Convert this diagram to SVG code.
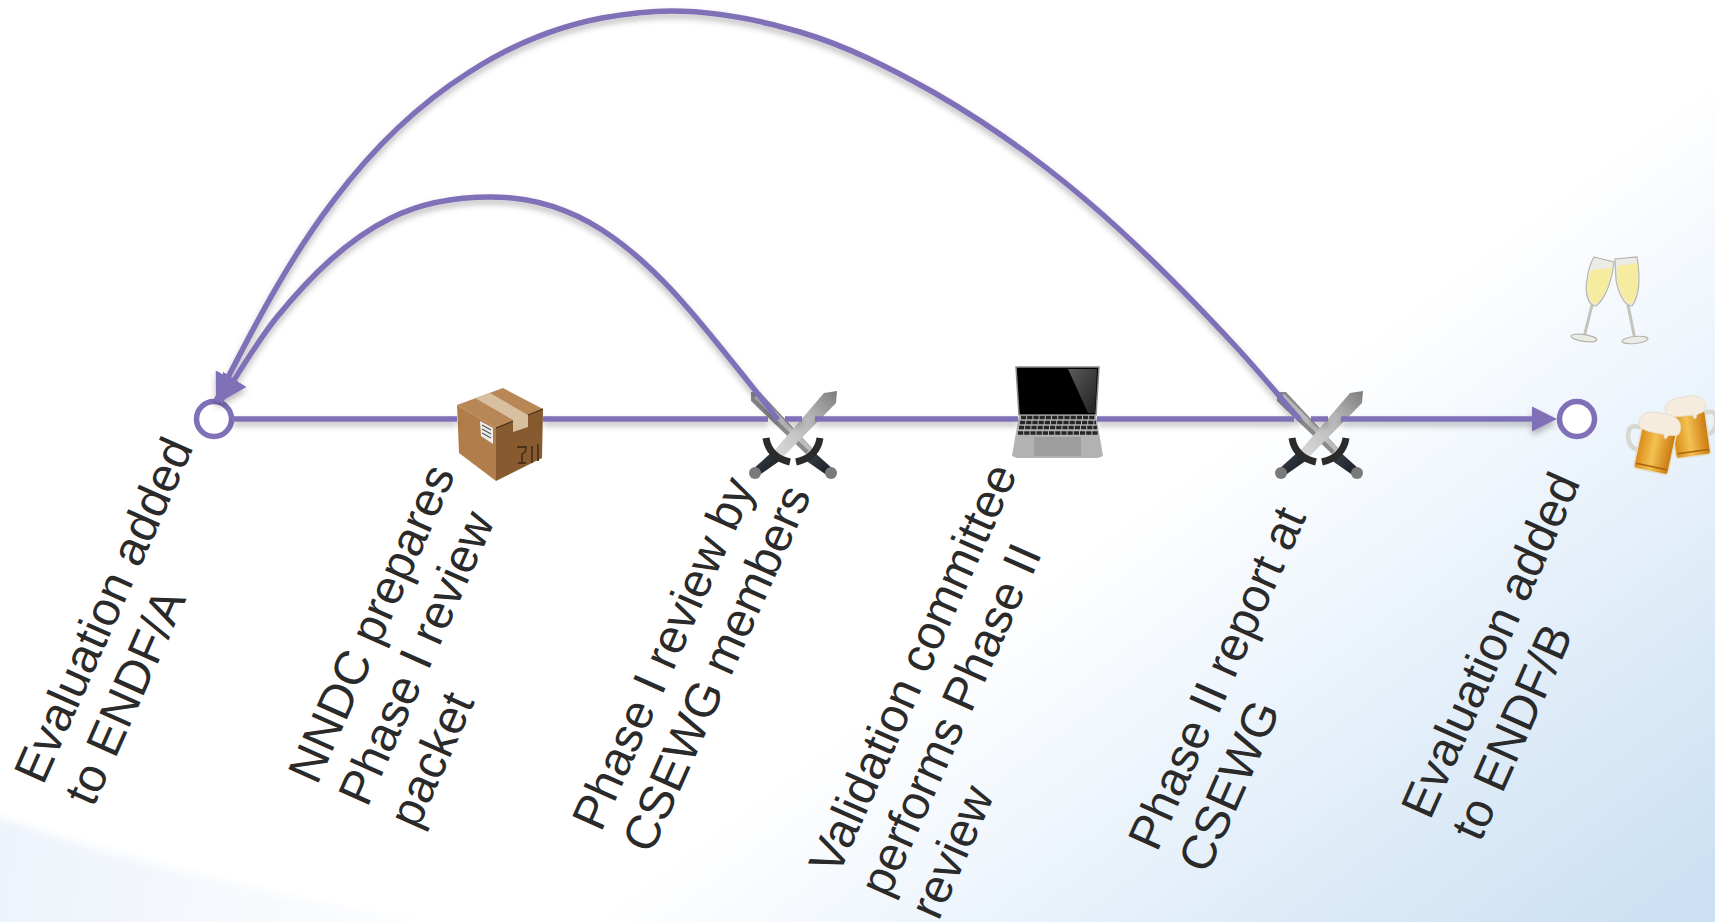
<svg xmlns="http://www.w3.org/2000/svg" xmlns:xlink="http://www.w3.org/1999/xlink" width="1715" height="922" viewBox="0 0 1715 922">
<style>
.lab{font-family:"Liberation Sans",Arial,sans-serif;font-size:48px;fill:#2a2a2a}
.conn{fill:none;stroke:#7f70b8;stroke-width:5.500}
.end{fill:#fff;stroke:#7f70b8;stroke-width:5.500}
.glass{fill:#ecece6;stroke:#b5b5ab;stroke-width:1.200}
.stem{fill:none;stroke:#c4c4bb;stroke-width:3}
.wine{fill:#f6ec9f}
.foam{fill:#f5ecdd;stroke:#e6d9c4;stroke-width:.8}
.handle{fill:none;stroke:#d8d8d0;stroke-width:4.500}
.keys{fill:none;stroke:#262626;stroke-width:3.600;stroke-dasharray:5.200 1}
</style>
<defs>
<linearGradient id="bgA" gradientUnits="userSpaceOnUse" x1="654" y1="872" x2="1044" y2="1392">
<stop offset="0" stop-color="#fff"/><stop offset=".26" stop-color="#f1f7fd"/><stop offset=".6" stop-color="#dfecf8"/><stop offset="1" stop-color="#cbe0f3"/>
</linearGradient>
<linearGradient id="bgB" gradientUnits="userSpaceOnUse" x1="0" y1="830" x2="480" y2="922">
<stop offset="0" stop-color="#edf3fb"/><stop offset="1" stop-color="#fff"/>
</linearGradient>
<linearGradient id="blade" x1="0" y1="1" x2="1" y2="0"><stop offset="0" stop-color="#dcdcdc"/><stop offset=".6" stop-color="#b4b4b4"/><stop offset="1" stop-color="#7c7c7c"/></linearGradient>
<linearGradient id="beer" x1="0" y1="0" x2="1" y2="0"><stop offset="0" stop-color="#d98a17"/><stop offset=".45" stop-color="#f4c152"/><stop offset="1" stop-color="#c9780f"/></linearGradient>
<linearGradient id="grip" x1="0" y1="0" x2="1" y2="1"><stop offset="0" stop-color="#3a4450"/><stop offset="1" stop-color="#15191e"/></linearGradient>
<linearGradient id="shine" x1="0" y1="0" x2="1" y2="1"><stop offset="0" stop-color="#5a5a5a"/><stop offset="1" stop-color="#222"/></linearGradient>
<filter id="sh" x="-5%" y="-5%" width="110%" height="115%"><feDropShadow dx="0" dy="4" stdDeviation="3" flood-color="#000" flood-opacity=".28"/></filter>
<filter id="soft" x="-5%" y="-5%" width="110%" height="110%"><feGaussianBlur stdDeviation="5"/></filter>
<marker id="tri" markerUnits="userSpaceOnUse" markerWidth="32" markerHeight="32" refX="27" refY="15" orient="auto-start-reverse" viewBox="0 0 32 30"><path d="M0 1L27 15L0 29Z" fill="#7f70b8"/></marker>
<g id="swordsIcon">
<path d="M2 1L11 1L63 57L57 63L2 10Z" fill="#8a8a8a"/>
<path d="M9 3L63 57L60 60L5 7Z" fill="#bcbcbc"/>
<path d="M75 2L88 0L87 12L33 67L25 60Z" fill="url(#blade)"/>
<path d="M24 60L3 79L9 85L32 69Z" fill="url(#grip)"/>
<path d="M64 60L85 79L79 85L56 69Z" fill="url(#grip)"/>
<path d="M17 47C19 60 28 68 41 71M71 47C69 60 60 68 47 71" stroke="#2b2b2b" stroke-width="7" fill="none"/>
<circle cx="6" cy="82" r="6" fill="#7a7a7a"/><circle cx="82" cy="82" r="6" fill="#7a7a7a"/>
</g>
</defs>
<rect width="1715" height="922" fill="url(#bgA)"/>
<path d="M-20 811C120 860 300 905 490 930L-20 930Z" fill="url(#bgB)" filter="url(#soft)"/>

<g id="node-endf-a"><circle class="end" cx="214" cy="419" r="17.500"/></g>
<g id="node-packet">
<path d="M457 405L503 388L543 409L496 428Z" fill="#b98656"/>
<path d="M457 405L496 428L496 481L459 453Z" fill="#b17d4a"/>
<path d="M543 409L496 428L496 481L542 458Z" fill="#875a2f"/>
<path d="M496 428L543 409" stroke="#2e2013" stroke-width="1" fill="none"/>
<path d="M475 398L490 393L528 415L528 427L513 432L513 420Z" fill="#d8bf9f"/>
<path d="M480 421L493 428L493 444L481 436Z" fill="#eee"/>
<path d="M482 425L491 430M482 429L491 434M482 433L491 438" stroke="#555" stroke-width="1.200"/>
<path d="M517 447h9q0 6-4 7v9M518 463h8M532 446v17M538 444v17" fill="none" stroke="#4e3218" stroke-width="1.800"/>
</g>
<g id="node-phase1-review"><use xlink:href="#swordsIcon" href="#swordsIcon" x="749" y="391"/></g>
<g id="node-laptop">
<path d="M1016 367H1099L1096 415H1019Z" fill="#000" stroke="#8d8d8d" stroke-width="1.500"/>
<path d="M1068 369L1097 369L1095 413L1088 413Z" fill="url(#shine)"/>
<path d="M1019 415H1096L1103 456L1098 458H1017L1012 456Z" fill="#b2b2b2"/>
<path class="keys" d="M1021 417.500H1095M1020 422.500H1096M1019 427.500H1097M1018 433H1098"/>
<rect x="1034" y="437" width="47" height="19" fill="#9d9d9d"/>
</g>
<g id="node-phase2-report"><use xlink:href="#swordsIcon" href="#swordsIcon" x="1275" y="391"/></g>
<g id="node-endf-b"><circle class="end" cx="1577" cy="419" r="17.500"/></g>
<g id="champagne">
<path class="stem" d="M1592 305L1584 337M1628 305L1635 340"/>
<ellipse class="glass" cx="1584" cy="338" rx="13" ry="3.500" transform="rotate(8 1584 338)"/>
<ellipse class="glass" cx="1635" cy="340" rx="13" ry="3.500" transform="rotate(-6 1635 340)"/>
<path class="glass" d="M1594 257L1614 262C1612 280 1606 298 1596 306C1587 306 1585 290 1587 280C1588 270 1591 262 1594 257Z"/>
<path class="glass" d="M1615 259L1637 257C1640 275 1640 295 1632 306C1624 306 1618 292 1616 280Z"/>
<path class="wine" d="M1591 270L1612 268C1610 283 1604 298 1596 304C1589 304 1587 290 1588 281Z"/>
<path class="wine" d="M1617 266L1637 263C1639 278 1638 295 1632 304C1625 304 1619 290 1617 280Z"/>
</g>
<g id="beers">
<g transform="translate(1688 427) rotate(-8)">
<path class="handle" d="M18 -12h5q7 0 6 9q-1 12 -13 14"/>
<rect x="-16" y="-16" width="35" height="46" rx="3" fill="url(#beer)" stroke="#e6e0cf" stroke-width="1.500"/>
<path d="M-14 25H17" stroke="#a9650b" stroke-width="1.500"/>
<path class="foam" d="M-20 -18C-22 -29 -8 -31 0 -30C11 -32 22 -28 20 -16C19 -11 12 -13 10 -10C9 -6 7 -6 6 -11C-4 -12 -19 -10 -20 -18Z"/>
</g>
<g transform="translate(1656 443) rotate(12)">
<path class="handle" d="M-18 -12h-5q-7 0 -6 9q1 12 13 14"/>
<rect x="-17" y="-17" width="35" height="46" rx="3" fill="url(#beer)" stroke="#e6e0cf" stroke-width="1.500"/>
<path d="M-15 24H16" stroke="#a9650b" stroke-width="1.500"/>
<path class="foam" d="M-21 -16C-23 -28 -8 -31 0 -30C11 -32 23 -28 21 -15C20 -9 12 -12 10 -9C9 -5 7 -5 6 -10C-4 -10 -20 -8 -21 -16Z"/>
</g>
</g>

<g id="connectors" filter="url(#sh)">
<path class="conn" d="M232 419H457M543 419H768M785 419H802M815 419H1018M1097 419H1294M1311 419H1328M1341 419H1532"/>
<path d="M1532 406.500L1557 419L1532 431.500Z" fill="#7f70b8"/>
<path class="conn" marker-start="url(#tri)" d="M216 401C252 330 288 260 334 200C371 151 416 106 468 73C508 47 555 27 602 18C625 14 648 11 671 11C715 11 758 19.500 800 32C847 46 890 68 933 92C987 123 1039 160 1086 200C1140 246 1191 298 1239 350C1260 373 1280 397 1300 420"/>
<path class="conn" marker-start="url(#tri)" d="M220 402C239 373 256 343 277 317C309 278 346 240 391 218C421 203 457 197 491 197C530 197 569 209 602 230C647 259 683 301 717 343C738 369 758 393 778 420"/>
</g>

<g id="labels">
<text class="lab" transform="translate(43 786) rotate(-66)"><tspan x="0" y="0">Evaluation added</tspan><tspan x="0" y="55">to ENDF/A</tspan></text>
<text class="lab" transform="translate(317 786) rotate(-66)"><tspan x="0" y="0">NNDC prepares</tspan><tspan x="0" y="55">Phase I review</tspan><tspan x="0" y="110">packet</tspan></text>
<text class="lab" transform="translate(601 833) rotate(-66)"><tspan x="0" y="0">Phase I review by</tspan><tspan x="0" y="55">CSEWG members</tspan></text>
<text class="lab" transform="translate(838 877) rotate(-66)"><tspan x="0" y="0">Validation committee</tspan><tspan x="0" y="55">performs Phase II</tspan><tspan x="0" y="110">review</tspan></text>
<text class="lab" transform="translate(1157 853) rotate(-66)"><tspan x="0" y="0">Phase II report at</tspan><tspan x="0" y="55">CSEWG</tspan></text>
<text class="lab" transform="translate(1430 821) rotate(-66)"><tspan x="0" y="0">Evaluation added</tspan><tspan x="0" y="55">to ENDF/B</tspan></text>
</g>
</svg>
